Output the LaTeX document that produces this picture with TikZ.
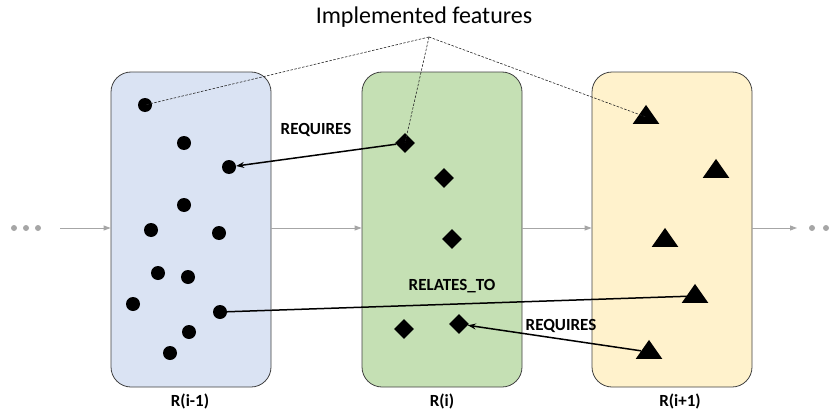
\documentclass[tikz,border=0pt]{standalone}
\usepackage{fontspec}
\setmainfont{Carlito}
\usetikzlibrary{arrows.meta,shapes.geometric}
\definecolor{boxA}{HTML}{DAE3F3}
\definecolor{boxB}{HTML}{C5E0B4}
\definecolor{boxC}{HTML}{FFF2CC}
\definecolor{edge}{HTML}{404040}
\definecolor{flow}{HTML}{A6A6A6}
\tikzset{
  rel/.style={draw=edge, line width=0.8pt, rounded corners=20pt, minimum width=160pt, minimum height=315pt, inner sep=0pt},
  dotf/.style={circle, fill=black, minimum size=14pt, inner sep=0pt},
  dia/.style={diamond, fill=black, minimum size=20pt, inner sep=0pt},
  tri/.style={isosceles triangle, isosceles triangle apex angle=70, shape border rotate=90, fill=black, minimum width=25pt, minimum height=19pt, inner sep=0pt},
  gdot/.style={circle, fill=flow, minimum size=6pt, inner sep=0pt},
  flowarr/.style={draw=flow, line width=0.9pt, -{Triangle[length=7pt,width=5pt]}},
  reqarr/.style={draw=black, line width=1.5pt, -{Stealth[length=8pt,width=6pt]}},
  relline/.style={draw=black, line width=1.5pt},
  feat/.style={draw=black!85, line width=0.6pt, dash pattern=on 2.5pt off 1.5pt},
  lab/.style={font=\bfseries\fontsize{17}{19}\selectfont},
}
\begin{document}
\begin{tikzpicture}[x=1pt,y=-1pt]
\useasboundingbox (0,0) rectangle (832,412);
% boxes
\node[rel, fill=boxA] (r1) at (191,229.5) {};
\node[rel, fill=boxB] (r2) at (442,229.5) {};
\node[rel, fill=boxC] (r3) at (672,229.5) {};
% labels under boxes
\node[lab] (l1) at (190,401) {R(i-1)};
\node[lab] (l2) at (442,401) {R(i)};
\node[lab] (l3) at (680,401) {R(i+1)};
% continuation dots
\node[gdot] (d1) at (14,228) {};
\node[gdot] (d2) at (26,228) {};
\node[gdot] (d3) at (38,228) {};
\node[gdot] (d4) at (812,228) {};
\node[gdot] (d5) at (826,228) {};
\coordinate (fa) at (60,228);
\coordinate (fb) at (797,228);
\draw[flowarr] (fa) -- (r1.west |- fa);
\draw[flowarr] (r1.east |- fa) -- (r2.west |- fa);
\draw[flowarr] (r2.east |- fa) -- (r3.west |- fa);
\draw[flowarr] (r3.east |- fa) -- (fb);
% circles
\node[dotf] (c1) at (145,105) {};
\node[dotf] (c2) at (184,143) {};
\node[dotf] (c3) at (229,167) {};
\node[dotf] (c4) at (184,205) {};
\node[dotf] (c5) at (151,230) {};
\node[dotf] (c6) at (219,233) {};
\node[dotf] (c7) at (158,273) {};
\node[dotf] (c8) at (188,277) {};
\node[dotf] (c9) at (133,304) {};
\node[dotf] (c10) at (220,312) {};
\node[dotf] (c11) at (189,332) {};
\node[dotf] (c12) at (170,353) {};
% diamonds
\node[dia] (m1) at (405,143) {};
\node[dia] (m2) at (444,178) {};
\node[dia] (m3) at (452,239) {};
\node[dia] (m4) at (404,329) {};
\node[dia] (m5) at (459,324) {};
% triangles
\node[tri] (t1) at (646,117) {};
\node[tri] (t2) at (716,171) {};
\node[tri] (t3) at (665,240) {};
\node[tri] (t4) at (695,296) {};
\node[tri] (t5) at (649,352) {};
% title and dashed pointers
\node[font=\fontsize{24}{28}\selectfont] (title) at (424,17) {Implemented features};
\coordinate (hub) at (429,37);
\draw[feat] (hub) -- (c1.center);
\draw[feat] (hub) -- (m1.center);
\draw[feat] (hub) -- (t1.center);
% relations
\draw[reqarr] (m1) -- (c3);
\draw[relline] (c10.center) -- (t4.center);
\draw[reqarr] (t5) -- (m5);
\node[lab] (q1) at (316,130) {REQUIRES};
\node[lab] (q2) at (452,286) {RELATES\_TO};
\node[lab] (q3) at (561,326) {REQUIRES};
\end{tikzpicture}
\end{document}
